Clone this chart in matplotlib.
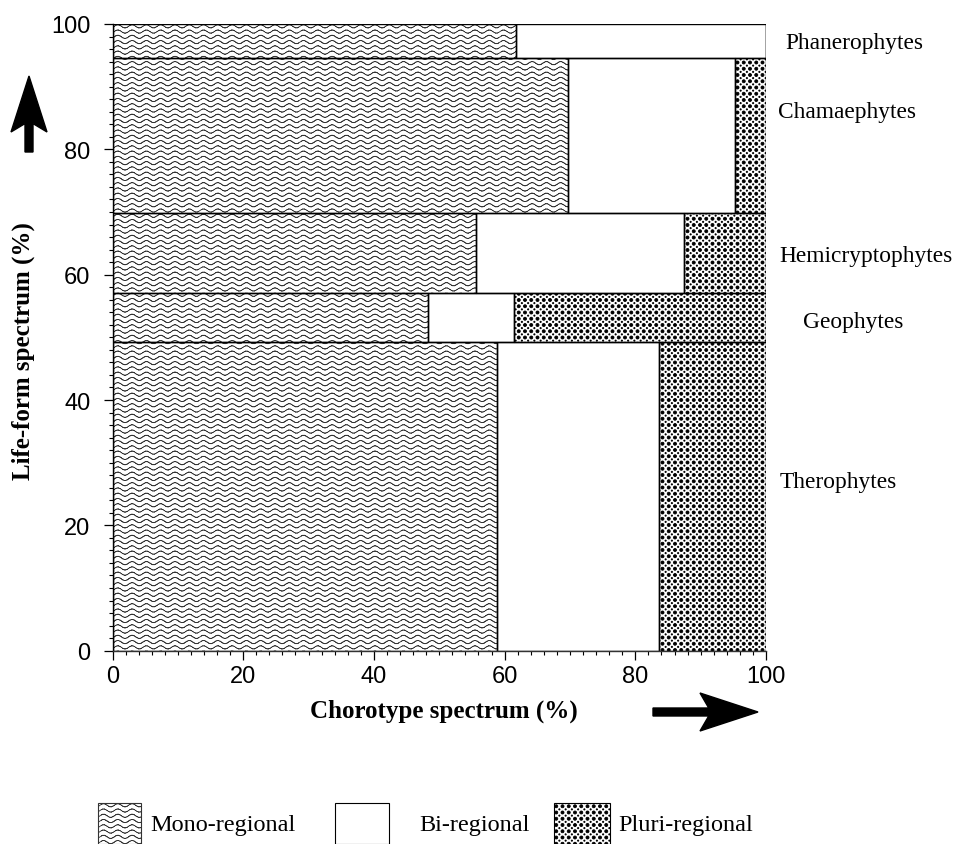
import numpy as np
import matplotlib
matplotlib.use("Agg")
import matplotlib.pyplot as plt
import matplotlib.hatch as mhatch
from matplotlib.path import Path
from matplotlib.patches import Rectangle, FancyArrow

# life-form rows, bottom to top
life_forms = ['Therophytes', 'Geophytes', 'Hemicryptophytes', 'Chamaephytes', 'Phanerophytes']
life_pct = [49.3, 7.8, 12.7, 24.8, 5.4]
# chorotype split inside each row
mono = [58.8, 48.3, 55.6, 69.7, 61.8]
bi = [24.8, 13.2, 31.8, 25.6, 38.2]
pluri = [16.4, 38.5, 12.6, 4.7, 0.0]
chorotypes = ['Mono-regional', 'Bi-regional', 'Pluri-regional']

# where the row names sit on the right (data units)
label_x = [102.1, 105.6, 102.1, 101.8, 102.9]
label_y = [27.0, 52.6, 63.0, 86.0, 97.0]


# wavy hatch in place of '-', and a dotted one in place of '.'
class WaveHatch(mhatch.HatchPatternBase):
    def __init__(self, hatch, density):
        self.rows = 19 if '-' in hatch else 0
        self.waves = 7
        self.seg = self.waves * 10
        self.num_vertices = (self.rows + 1) * self.seg * 2 if self.rows else 0

    def set_vertices_and_codes(self, vertices, codes):
        x = np.linspace(0, 1, self.seg + 1)
        amp = 0.3 / self.rows
        k = 0
        for i in range(self.rows + 1):
            y = i / self.rows + amp * np.sin(2 * np.pi * self.waves * x)
            for j in range(self.seg):
                vertices[k] = (x[j], y[j])
                vertices[k + 1] = (x[j + 1], y[j + 1])
                codes[k] = Path.MOVETO
                codes[k + 1] = Path.LINETO
                k += 2


class DotHatch(mhatch.HatchPatternBase):
    def __init__(self, hatch, density):
        self.n = 16 if '.' in hatch else 0
        c = Path.unit_circle()
        self.cv, self.cc = c.vertices, c.codes
        if self.n:
            self.num_vertices = ((self.n + 1) ** 2 + self.n ** 2) * len(self.cv)
        else:
            self.num_vertices = 0

    def set_vertices_and_codes(self, vertices, codes):
        step = 1.0 / self.n
        m = len(self.cv)
        k = 0
        for i in range(self.n + 1):
            for j in range(self.n + 1):
                vertices[k:k + m] = self.cv * step * 0.24 + (i * step, j * step)
                codes[k:k + m] = self.cc
                k += m
        for i in range(self.n):
            for j in range(self.n):
                vertices[k:k + m] = self.cv * step * 0.1 + ((i + .5) * step, (j + .5) * step)
                codes[k:k + m] = self.cc
                k += m


for idx, h in enumerate(mhatch._hatch_types):
    if h is mhatch.HorizontalHatch:
        mhatch._hatch_types[idx] = WaveHatch
    elif h is mhatch.SmallFilledCircles:
        mhatch._hatch_types[idx] = DotHatch

plt.rcParams['hatch.linewidth'] = 0.6
plt.rcParams['font.family'] = 'Liberation Sans'

W, H = 957, 845
fig = plt.figure(figsize=(W / 100, H / 100), dpi=100)
ax = fig.add_axes([112.5 / W, 1 - 651.7 / H, 653.5 / W, 626.7 / H])

bottoms = np.concatenate([[0], np.cumsum(life_pct)[:-1]])
mono = np.array(mono)
bi = np.array(bi)
pluri = np.array(pluri)

wave_col = '#333333'
ax.barh(bottoms, mono, height=life_pct, left=0, align='edge', facecolor='white',
        edgecolor=wave_col, hatch='-', linewidth=0)
ax.barh(bottoms, bi, height=life_pct, left=mono, align='edge', facecolor='white',
        linewidth=0)
ax.barh(bottoms, pluri, height=life_pct, left=mono + bi, align='edge', facecolor='white',
        edgecolor='black', hatch='.', linewidth=0)
for left, width in [(0, mono), (mono, bi), (mono + bi, pluri)]:
    ax.barh(bottoms, width, height=life_pct, left=left, align='edge', fill=False,
            edgecolor='black', linewidth=1.0)

ax.set_xlim(0, 100)
ax.set_ylim(0, 100)
ax.spines['top'].set_visible(False)
ax.spines['right'].set_visible(False)
ax.spines['left'].set_linewidth(1.0)
ax.spines['bottom'].set_linewidth(1.0)
ax.spines['bottom'].set_color('#333333')
ax.set_xticks(np.arange(0, 101, 20))
ax.set_yticks(np.arange(0, 101, 20))
ax.set_xticks(np.arange(0, 101, 2), minor=True)
ax.set_yticks(np.arange(0, 101, 2), minor=True)
ax.tick_params(which='major', direction='out', length=6.5, width=0.9, labelsize=17)
ax.tick_params(which='minor', direction='out', length=3.2, width=0.8)
ax.tick_params(axis='x', pad=4)
ax.tick_params(axis='y', pad=9.5)

for name, x, y in zip(life_forms, label_x, label_y):
    ax.text(x, y, name, ha='left', va='center', fontsize=16.8,
            family='Liberation Serif', clip_on=False)

fig.text(443.5 / W, 1 - 711 / H, 'Chorotype spectrum (%)', ha='center', va='center',
         fontsize=18, fontweight='bold', family='Liberation Serif')
fig.text(23 / W, 1 - 351 / H, 'Life-form spectrum (%)', ha='center', va='center',
         rotation=90, fontsize=18, fontweight='bold', family='Liberation Serif')

# direction arrows (in inches)
fig.add_artist(FancyArrow(0.29, (H - 153) / 100, 0, 0.76, width=0.08, head_width=0.36,
                          head_length=0.56, overhang=0.15, length_includes_head=True,
                          color='black', transform=fig.dpi_scale_trans))
fig.add_artist(FancyArrow(6.53, (H - 713) / 100, 1.05, 0, width=0.08, head_width=0.38,
                          head_length=0.58, overhang=0.15, length_includes_head=True,
                          color='black', transform=fig.dpi_scale_trans))

# legend drawn by hand along the bottom
sw = [(98, 141, '-', wave_col), (335, 389, '', 'black'), (554, 610, '.', 'black')]
tx = [150, 419, 618]
for (x0, x1, hatch, ec), x, name in zip(sw, tx, chorotypes):
    fig.add_artist(Rectangle((x0 / W, 0), (x1 - x0) / W, (H - 812) / H + 0.01,
                             transform=fig.transFigure, facecolor='white',
                             edgecolor=ec, hatch=hatch, linewidth=0.8))
    fig.text(x / W, 1 - 826 / H, name, ha='left', va='center', fontsize=17.5,
             family='Liberation Serif')

fig.savefig('out.png', dpi=100)
